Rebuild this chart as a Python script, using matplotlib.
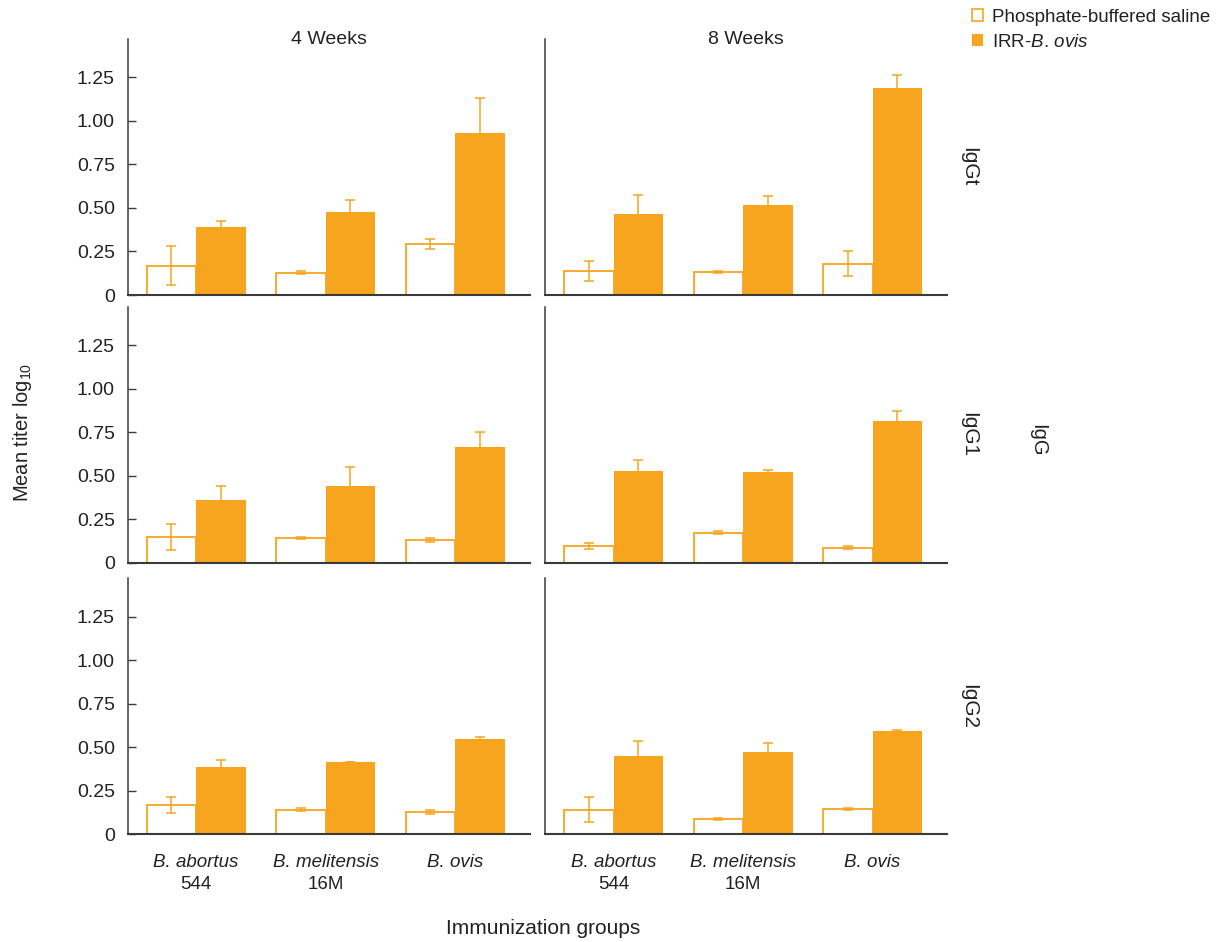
import numpy as np
import matplotlib
matplotlib.use("Agg")
import matplotlib.pyplot as plt
from matplotlib.patches import Patch

plt.rcParams["font.family"] = ["Liberation Sans", "DejaVu Sans"]
plt.rcParams["mathtext.fontset"] = "custom"
plt.rcParams["mathtext.rm"] = "Liberation Sans"
plt.rcParams["mathtext.it"] = "Liberation Sans:italic"

# ---- data -------------------------------------------------------------
groups = ["B. abortus", "B. melitensis", "B. ovis"]
strains = ["544", "16M", ""]
weeks = ["4 Weeks", "8 Weeks"]
isotypes = ["IgGt", "IgG1", "IgG2"]
yticks = [0, 0.25, 0.50, 0.75, 1.00, 1.25]
ytick_labels = ["0", "0.25", "0.50", "0.75", "1.00", "1.25"]

# IgGt
iggt_4w_pbs = [0.169, 0.128, 0.293]
iggt_4w_pbs_err = [0.110, 0.008, 0.030]
iggt_4w_irr = [0.389, 0.479, 0.929]
iggt_4w_irr_err = [0.038, 0.067, 0.200]
iggt_8w_pbs = [0.138, 0.130, 0.180]
iggt_8w_pbs_err = [0.060, 0.005, 0.070]
iggt_8w_irr = [0.467, 0.515, 1.188]
iggt_8w_irr_err = [0.110, 0.052, 0.075]

# IgG1
igg1_4w_pbs = [0.150, 0.142, 0.131]
igg1_4w_pbs_err = [0.075, 0.008, 0.013]
igg1_4w_irr = [0.359, 0.442, 0.666]
igg1_4w_irr_err = [0.083, 0.107, 0.085]
igg1_8w_pbs = [0.094, 0.173, 0.086]
igg1_8w_pbs_err = [0.017, 0.008, 0.010]
igg1_8w_irr = [0.524, 0.520, 0.816]
igg1_8w_irr_err = [0.065, 0.015, 0.056]

# IgG2
igg2_4w_pbs = [0.169, 0.142, 0.127]
igg2_4w_pbs_err = [0.044, 0.008, 0.010]
igg2_4w_irr = [0.389, 0.416, 0.548]
igg2_4w_irr_err = [0.039, 0.000, 0.012]
igg2_8w_pbs = [0.140, 0.088, 0.146]
igg2_8w_pbs_err = [0.072, 0.005, 0.007]
igg2_8w_irr = [0.452, 0.474, 0.594]
igg2_8w_irr_err = [0.081, 0.053, 0.004]

panels = {
    (0, 0): (iggt_4w_pbs, iggt_4w_pbs_err, iggt_4w_irr, iggt_4w_irr_err),
    (0, 1): (iggt_8w_pbs, iggt_8w_pbs_err, iggt_8w_irr, iggt_8w_irr_err),
    (1, 0): (igg1_4w_pbs, igg1_4w_pbs_err, igg1_4w_irr, igg1_4w_irr_err),
    (1, 1): (igg1_8w_pbs, igg1_8w_pbs_err, igg1_8w_irr, igg1_8w_irr_err),
    (2, 0): (igg2_4w_pbs, igg2_4w_pbs_err, igg2_4w_irr, igg2_4w_irr_err),
    (2, 1): (igg2_8w_pbs, igg2_8w_pbs_err, igg2_8w_irr, igg2_8w_irr_err),
}

# ---- style ------------------------------------------------------------
ORANGE = "#F7A51F"
AXIS = "#3a3a3a"
TXT = "#222222"
FS = 13.5
W, H = 1222, 942

fig = plt.figure(figsize=(W / 100, H / 100), dpi=100)

col_x = [127.5 / W, 545 / W]
col_w = 402 / W
row_y = [1 - 295 / H, 1 - 562.7 / H, 1 - 834.3 / H]
row_h = 256 / H

x = np.arange(len(groups))
bw = 0.382

for (r, c), (pbs, pbs_err, irr, irr_err) in panels.items():
    ax = fig.add_axes([col_x[c], row_y[r], col_w, row_h])
    # treated-group error bars sit behind the filled bars, so only the upper arm shows
    ax.errorbar(x + bw / 2, irr, yerr=irr_err, fmt="none", ecolor=ORANGE,
                elinewidth=1.1, capsize=3.6, capthick=1.1, zorder=1)
    ax.bar(x - bw / 2, pbs, width=bw, facecolor="white", edgecolor=ORANGE,
           linewidth=1.3, zorder=2)
    ax.bar(x + bw / 2, irr, width=bw, color=ORANGE, linewidth=0, zorder=2)
    ax.errorbar(x - bw / 2, pbs, yerr=pbs_err, fmt="none", ecolor=ORANGE,
                elinewidth=1.1, capsize=3.6, capthick=1.1, zorder=3)

    ax.set_xlim(-0.53, 2.575)
    ax.set_ylim(0, 1.47)
    for s in ("top", "right"):
        ax.spines[s].set_visible(False)
    ax.spines["left"].set_color(AXIS)
    ax.spines["left"].set_linewidth(1.1)
    ax.spines["bottom"].set_color(AXIS)
    ax.spines["bottom"].set_linewidth(1.5)
    ax.spines["bottom"].set_zorder(4)

    ax.set_yticks(yticks)
    if c == 0:
        ax.set_yticklabels(ytick_labels)
        ax.tick_params(axis="y", direction="in", length=6, width=1, color=AXIS,
                       pad=9, labelsize=14, labelcolor=TXT)
    else:
        ax.tick_params(axis="y", length=0, labelleft=False)

    ax.set_xticks(x)
    if r == 2:
        ax.set_xticklabels(groups, fontstyle="italic", fontsize=FS, color=TXT)
        ax.tick_params(axis="x", length=0, pad=14)
        for xi, st in zip(x, strains):
            ax.annotate(st, xy=(xi, 0), xycoords=("data", "axes fraction"),
                        xytext=(0, -30), textcoords="offset points",
                        ha="center", va="top", fontsize=FS, color=TXT)
    else:
        ax.tick_params(axis="x", length=0, labelbottom=False)

    if r == 0:
        ax.text(0.5, 1.0, weeks[c], transform=ax.transAxes, ha="center",
                va="center", fontsize=FS + 0.5, color=TXT)
    if c == 1:
        ax.text(1.0 + 22 / 402, 0.5, isotypes[r], transform=ax.transAxes,
                rotation=270, ha="center", va="center", fontsize=15,
                color=TXT)

fig.text(1038 / W, 1 - 440 / H, "IgG", rotation=270, ha="center", va="center",
         fontsize=14.5, color=TXT)
fig.text(23 / W, 1 - 432 / H, r"Mean titer log$_{\mathregular{10}}$", rotation=90,
         ha="center", va="center", fontsize=14.5, color=TXT)
fig.text(543 / W, 1 - 928 / H, "Immunization groups", ha="center", va="center",
         fontsize=15, color=TXT)

handles = [Patch(facecolor="white", edgecolor=ORANGE, linewidth=1.2),
           Patch(facecolor=ORANGE, edgecolor=ORANGE, linewidth=0)]
fig.legend(handles, ["Phosphate-buffered saline", r"IRR-$\mathit{B.\,ovis}$"],
           loc="upper left", bbox_to_anchor=(972 / W, 1 - 9 / H),
           frameon=False, fontsize=FS, handlelength=0.6, handleheight=0.6,
           handletextpad=0.45, borderpad=0, borderaxespad=0, labelspacing=0.42,
           labelcolor=TXT)

fig.savefig("out.png", dpi=100)
